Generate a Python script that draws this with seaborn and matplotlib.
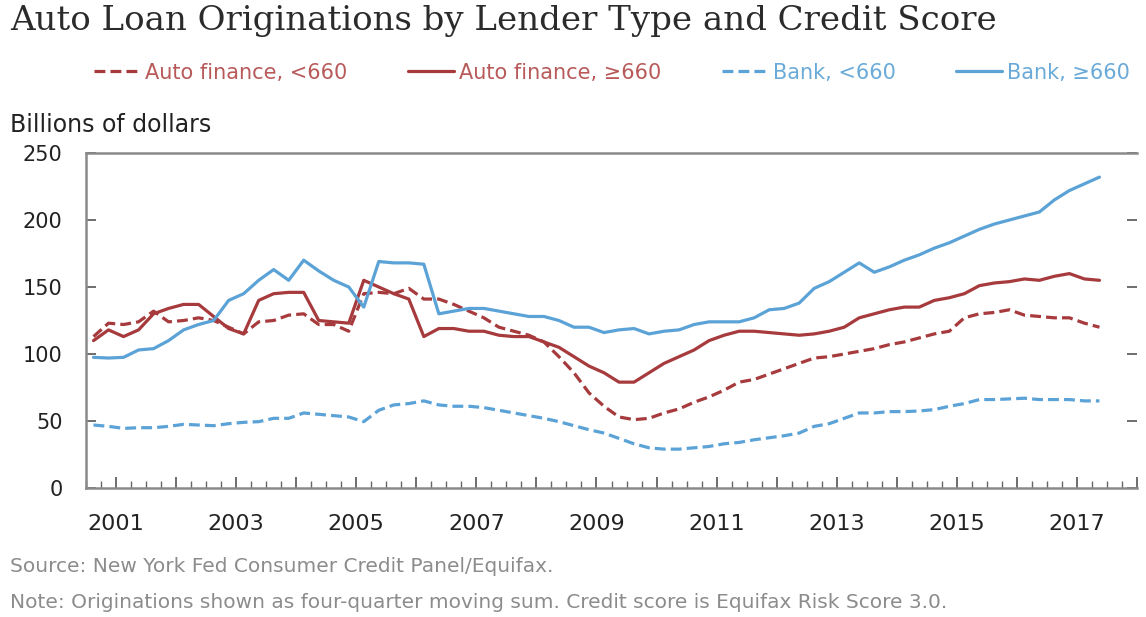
"""Auto loan originations by lender type and credit score (quarterly, four-quarter moving sum)."""
import matplotlib
matplotlib.use("Agg")
import matplotlib.pyplot as plt
from matplotlib.ticker import FixedLocator, MultipleLocator
import numpy as np
import pandas as pd
import seaborn as sns

# quarterly observations, 2000Q3 .. 2017Q2 (plotted mid-quarter)
start_year = 2000.625
n_quarters = 68

af_lo = [113, 123, 122, 124, 132, 124, 125, 127, 125, 120, 115, 124,
         125, 129, 130, 122, 122, 117, 145, 146, 145, 149, 141, 141,
         137, 132, 127, 120, 117, 114, 109, 98, 86, 71, 61, 53,
         51, 52, 56, 59, 64, 68, 73, 79, 81, 85, 89, 93,
         97, 98, 100, 102, 104, 107, 109, 112, 115, 117, 127, 130,
         131, 133, 129, 128, 127, 127, 123, 120]
af_hi = [110, 118, 113, 118, 130, 134, 137, 137, 128, 119, 115, 140,
         145, 146, 146, 125, 124, 123, 155, 150, 145, 141, 113, 119,
         119, 117, 117, 114, 113, 113, 109, 105, 98, 91, 86, 79,
         79, 86, 93, 98, 103, 110, 114, 117, 117, 116, 115, 114,
         115, 117, 120, 127, 130, 133, 135, 135, 140, 142, 145, 151,
         153, 154, 156, 155, 158, 160, 156, 155]
bank_lo = [47, 46, 44.5, 45, 45, 46, 47.5, 47, 46.5, 48, 49, 49.5,
           52, 52, 56, 55, 54, 53, 49.5, 58, 62, 63, 65, 62,
           61, 61, 60, 58, 56, 54, 52, 49.5, 46.5, 43.5, 41, 37,
           33, 30, 29, 29, 30, 31, 33, 34, 36, 37.5, 39, 41,
           46, 48, 52, 56, 56, 57, 57, 57.5, 58.5, 61, 63, 66,
           66, 66.5, 67, 66, 66, 66, 65, 65]
bank_hi = [97.5, 97, 97.5, 103, 104, 110, 118, 122, 125, 140, 145, 155,
           163, 155, 170, 162, 155, 150, 135, 169, 168, 168, 167, 130,
           132, 134, 134, 132, 130, 128, 128, 125, 120, 120, 116, 118,
           119, 115, 117, 118, 122, 124, 124, 124, 127, 133, 134, 138,
           149, 154, 161, 168, 161, 165, 170, 174, 179, 183, 188, 193,
           197, 200, 203, 206, 215, 222, 227, 232]

series_names = ["Auto finance, <660", "Auto finance, \u2265660", "Bank, <660", "Bank, \u2265660"]
year_labels = ["2001", "2003", "2005", "2007", "2009", "2011", "2013", "2015", "2017"]
y_ticks = [0, 50, 100, 150, 200, 250]

red = "#A63A3C"
blue = "#5BA2D6"
palette = {series_names[0]: red, series_names[1]: red,
           series_names[2]: blue, series_names[3]: blue}
text_colors = ["#B85A5A", "#B85A5A", "#6AAAD8", "#6AAAD8"]
dashes = {series_names[0]: (3.4, 1.6), series_names[1]: "",
          series_names[2]: (3.4, 1.6), series_names[3]: ""}

dates = start_year + 0.25 * np.arange(n_quarters)
frames = []
for name, vals in zip(series_names, [af_lo, af_hi, bank_lo, bank_hi]):
    frames.append(pd.DataFrame({"date": dates, "value": vals, "series": name}))
df = pd.concat(frames, ignore_index=True)

sns.set_theme(style="white")
plt.rcParams["font.family"] = ["DejaVu Sans"]

fig = plt.figure(figsize=(11.46, 6.17), dpi=100)
ax = fig.add_axes([86 / 1146, 129 / 617, 1051 / 1146, 335 / 617])

sns.lineplot(data=df, x="date", y="value", hue="series", style="series",
             palette=palette, dashes=dashes, linewidth=2.3, ax=ax,
             hue_order=series_names, style_order=series_names)

ax.set_xlim(2000.5, 2018.0)
ax.set_ylim(0, 250)
ax.set_xlabel("")
ax.set_ylabel("")

# axes frame
for side in ["left", "bottom", "top"]:
    ax.spines[side].set_color("#8a8a8a")
    ax.spines[side].set_linewidth(1.8)
ax.spines["right"].set_visible(False)

ax.yaxis.set_major_locator(FixedLocator(y_ticks))
ax.set_yticklabels([str(v) for v in y_ticks])
ax.tick_params(axis="y", direction="in", length=7, width=1.2, color="#555555",
               left=True, right=True, pad=17, labelsize=15, labelcolor="#222222")

year_ticks = [int(y) for y in year_labels]
ax.xaxis.set_major_locator(MultipleLocator(1))
ax.xaxis.set_minor_locator(MultipleLocator(0.25))
ax.set_xticks(np.arange(2001, 2019))
ax.set_xticklabels([str(y) if y in year_ticks else "" for y in range(2001, 2019)])
ax.tick_params(axis="x", which="major", direction="in", length=8, width=1.2,
               color="#555555", bottom=True, pad=19, labelsize=16, labelcolor="#222222")
ax.tick_params(axis="x", which="minor", direction="in", length=5, width=1.0,
               color="#666666", bottom=True)

sns.move_legend(ax, loc="center left", bbox_to_anchor=(0.0, 1.24), ncol=4,
                frameon=False, title=None, fontsize=15, handlelength=2.2,
                handletextpad=0.25, columnspacing=2.9, borderaxespad=0)
leg = ax.get_legend()
for txt, c in zip(leg.get_texts(), text_colors):
    txt.set_color(c)

fig.text(10 / 1146, 1 - 21 / 617, "Auto Loan Originations by Lender Type and Credit Score",
         family="DejaVu Serif", fontsize=24.5, color="#2b2b2b", va="center", ha="left")
fig.text(10 / 1146, 1 - 125 / 617, "Billions of dollars", fontsize=17,
         color="#222222", va="center", ha="left")
fig.text(10 / 1146, 1 - 567 / 617, "Source: New York Fed Consumer Credit Panel/Equifax.",
         fontsize=14.5, color="#8c8c8c", va="center", ha="left")
fig.text(10 / 1146, 1 - 603 / 617,
         "Note: Originations shown as four-quarter moving sum. Credit score is Equifax Risk Score 3.0.",
         fontsize=14.5, color="#8c8c8c", va="center", ha="left")

fig.savefig("out.png", dpi=100, facecolor="white")
plt.close(fig)
